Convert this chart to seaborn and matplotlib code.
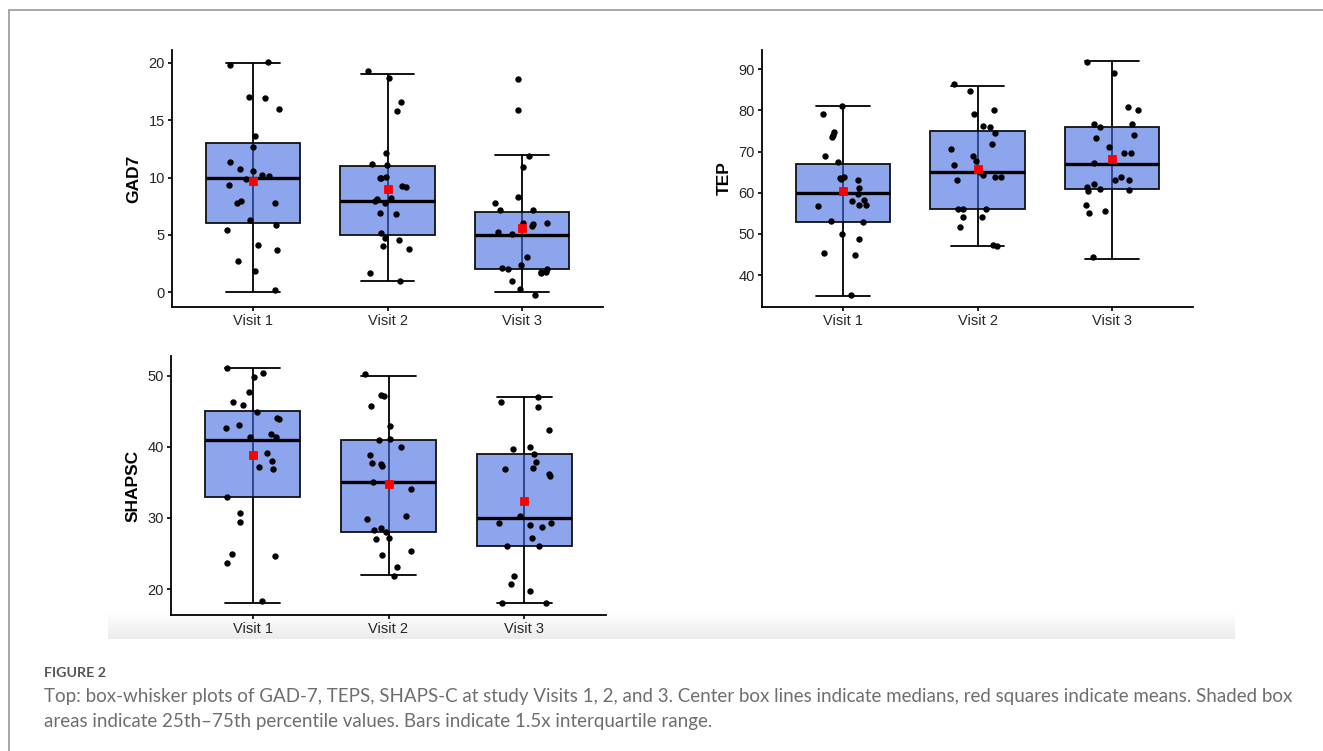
import numpy as np
import pandas as pd
import matplotlib
matplotlib.use("Agg")
import matplotlib.pyplot as plt
from matplotlib.lines import Line2D
import seaborn as sns

# ---------------- data ----------------
visits = ["Visit 1", "Visit 2", "Visit 3"]

gad7_v1 = [19.8, 20.1, 17.0, 16.9, 16.0, 13.65, 12.7, 11.4, 10.75, 10.6, 10.2, 10.1, 9.9,
           9.35, 8.0, 7.8, 7.8, 6.3, 5.9, 5.4, 4.1, 3.7, 2.7, 1.9, 0.2]
gad7_v2 = [19.3, 18.7, 16.6, 15.8, 12.1, 11.15, 11.1, 10.0, 10.05, 9.95, 9.15, 9.3, 8.15,
           8.2, 8.0, 7.8, 6.9, 6.8, 5.2, 4.75, 4.6, 4.0, 3.8, 1.7, 1.0]
gad7_v3 = [18.6, 15.9, 11.9, 10.9, 8.35, 7.75, 7.2, 7.2, 6.05, 5.95, 6.0, 5.8, 5.25, 5.1,
           3.05, 2.0, 2.0, 1.75, 1.7, 2.35, 1.75, 2.1, 1.0, 0.3, -0.26]

tep_v1 = [81.1, 79.1, 74.7, 73.9, 73.55, 69.0, 67.4, 63.65, 63.0, 61.1, 63.8, 63.4, 59.7,
          58.2, 58.1, 56.9, 57.0, 56.7, 52.8, 53.2, 49.9, 48.7, 44.8, 45.4, 35.1]
tep_v2 = [86.35, 84.8, 80.0, 79.1, 76.1, 76.0, 74.6, 71.8, 70.6, 68.8, 67.7, 66.8, 65.0,
          64.3, 63.9, 63.9, 63.1, 56.0, 56.0, 56.1, 54.1, 54.2, 51.7, 47.3, 47.0]
tep_v3 = [91.8, 89.0, 80.9, 80.1, 76.0, 76.7, 76.7, 73.9, 73.2, 71.2, 69.7, 69.7, 67.2,
          63.9, 63.1, 63.0, 62.0, 61.4, 60.8, 60.7, 60.3, 57.0, 55.6, 55.0, 44.3]

shapsc_v1 = [51.1, 49.8, 50.4, 47.7, 46.3, 45.8, 44.85, 44.0, 43.85, 43.0, 42.7, 41.75, 41.4,
             41.3, 39.1, 38.05, 37.1, 36.9, 33.0, 30.65, 29.4, 24.9, 24.7, 23.6, 18.3]
shapsc_v2 = [50.2, 47.3, 47.15, 45.7, 42.9, 41.05, 41.0, 39.9, 38.9, 37.7, 37.6, 37.25, 35.0,
             34.05, 30.2, 29.85, 28.6, 28.3, 27.95, 27.0, 27.1, 25.3, 24.8, 23.15, 21.8]
shapsc_v3 = [46.95, 46.35, 45.6, 42.3, 39.95, 39.75, 38.95, 37.8, 36.95, 36.9, 35.95, 36.1,
             30.25, 28.95, 29.25, 29.25, 28.7, 27.2, 26.0, 26.0, 21.8, 20.7, 19.75, 18.0, 18.0]

gad7_ticks = [0, 5, 10, 15, 20]
tep_ticks = [40, 50, 60, 70, 80, 90]
shapsc_ticks = [20, 30, 40, 50]

caption_title = "FIGURE 2"
caption_line1 = ("Top: box-whisker plots of GAD-7, TEPS, SHAPS-C at study Visits 1, 2, and 3. "
                 "Center box lines indicate medians, red squares indicate means. Shaded box")
caption_line2 = ("areas indicate 25th\u201375th percentile values. Bars indicate 1.5x "
                 "interquartile range.")

# ---------------- style ----------------
sns.set_theme(style="ticks")
plt.rcParams['font.family'] = ['Liberation Sans', 'DejaVu Sans']

W, H = 1323, 751
fig = plt.figure(figsize=(W / 100, H / 100), dpi=100)
fig.patch.set_facecolor("white")

FILL = (65 / 255, 105 / 255, 225 / 255, 0.6)
np.random.seed(7)


def fx(px):
    return px / W


def fy(py):
    return 1 - py / H


def panel(rect, groups, ylabel, yticks):
    ax = fig.add_axes(rect)
    ax.set_facecolor("none")
    df = pd.DataFrame({
        "visit": np.repeat(visits, [len(g) for g in groups]),
        "value": np.concatenate([np.asarray(g, float) for g in groups]),
    })
    df["score"] = df["value"].round()

    # line of the error bar running through the (semi-transparent) box
    for i, v in enumerate(visits):
        s = df.loc[df.visit == v, "score"].to_numpy()
        q1, q3 = np.percentile(s, [25, 75])
        ax.vlines(i, q1, q3, color="black", lw=1.3, zorder=1.5)

    sns.boxplot(data=df, x="visit", y="score", order=visits, width=0.7,
                showfliers=False, whis=1.5, linecolor="black", linewidth=1.3,
                boxprops=dict(facecolor=FILL, edgecolor="#111111", linewidth=1.3),
                medianprops=dict(color="black", linewidth=2.4),
                whiskerprops=dict(color="black", linewidth=1.3),
                capprops=dict(color="black", linewidth=1.3),
                capwidths=0.4, ax=ax)
    sns.stripplot(data=df, x="visit", y="value", order=visits, jitter=0.2,
                  color="black", size=4.6, linewidth=0, ax=ax, zorder=3)
    sns.pointplot(data=df, x="visit", y="score", order=visits, estimator="mean",
                  errorbar=None, color="red", marker="s", markersize=4.6,
                  linestyle="none", ax=ax, zorder=4)

    lo, hi = df["value"].min(), df["value"].max()
    pad = 0.05 * (hi - lo)
    ax.set_ylim(lo - pad, hi + pad)
    ax.set_xlim(-0.6, 2.6)
    ax.set_yticks(yticks)
    ax.set_xlabel("")
    ax.set_ylabel(ylabel, fontsize=12.5, fontweight="bold", color="black", labelpad=5)
    for sp in ["top", "right"]:
        ax.spines[sp].set_visible(False)
    for sp in ["left", "bottom"]:
        ax.spines[sp].set_linewidth(1.3)
        ax.spines[sp].set_color("black")
    ax.tick_params(length=3, width=1.2, color="black", labelsize=10.5,
                   labelcolor="#262626", pad=2)
    return ax


# grey gradient band at the bottom of the chart image
band = fig.add_axes([fx(108), fy(639), fx(1235 - 108), (639 - 612) / H], zorder=-5)
grad = np.linspace(1.0, 0.925, 64).reshape(-1, 1)
band.imshow(np.dstack([grad, grad, grad]), aspect="auto", extent=[0, 1, 0, 1])
band.axis("off")

panel([fx(172), fy(307), fx(603 - 172), (307 - 50) / H],
      [gad7_v1, gad7_v2, gad7_v3], "GAD7", gad7_ticks)
panel([fx(762), fy(307), fx(1193 - 762), (307 - 50) / H],
      [tep_v1, tep_v2, tep_v3], "TEP", tep_ticks)
panel([fx(171), fy(615), fx(606 - 171), (615 - 356) / H],
      [shapsc_v1, shapsc_v2, shapsc_v3], "SHAPSC", shapsc_ticks)

# card border
fig.add_artist(Line2D([fx(9), 1.0], [fy(10), fy(10)], transform=fig.transFigure,
                      color="#a0a0a0", lw=1.3))
fig.add_artist(Line2D([fx(9), fx(9)], [0.0, fy(10)], transform=fig.transFigure,
                      color="#a0a0a0", lw=1.3))

# caption
cap_font = ["Lato", "DejaVu Sans"]
t0 = fig.text(fx(44), fy(677), caption_title, family=cap_font, fontweight="bold",
              fontsize=10.5, color="#555555", va="baseline", ha="left")
t1 = fig.text(fx(44), fy(701.7), caption_line1, family=cap_font, fontsize=12.5,
              color="#6e6e6e", va="baseline", ha="left")
t2 = fig.text(fx(44), fy(726.7), caption_line2, family=cap_font, fontsize=12.5,
              color="#6e6e6e", va="baseline", ha="left")

renderer = fig.canvas.get_renderer()
for t, target in [(t0, 62.0), (t1, 1251.0)]:
    w = t.get_window_extent(renderer).width
    t.set_fontsize(t.get_fontsize() * target / w)
t2.set_fontsize(t1.get_fontsize())

fig.savefig("out.png", dpi=100, facecolor="white")
